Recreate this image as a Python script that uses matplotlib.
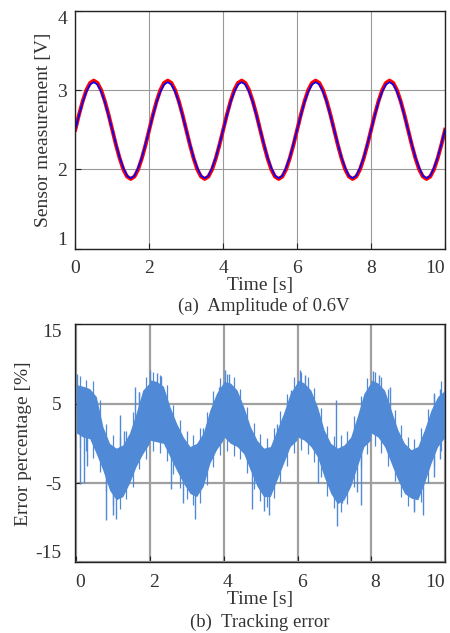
import numpy as np
from matplotlib import pyplot as plt
from matplotlib.transforms import ScaledTranslation

plt.rcParams['font.family'] = ['Liberation Serif', 'DejaVu Serif']
plt.rcParams['font.size'] = 14
plt.rcParams['axes.unicode_minus'] = False

# (a) sensor measurement, sampled every 0.1 s
t_a = np.arange(101) * 0.1
v_meas = [2.50, 2.69, 2.86, 3.00, 3.09, 3.12, 3.09, 3.00, 2.86, 2.69,
          2.50, 2.31, 2.14, 2.00, 1.91, 1.88, 1.91, 2.00, 2.14, 2.31,
          2.50, 2.69, 2.86, 3.00, 3.09, 3.12, 3.09, 3.00, 2.86, 2.69,
          2.50, 2.31, 2.14, 2.00, 1.91, 1.88, 1.91, 2.00, 2.14, 2.31,
          2.50, 2.69, 2.86, 3.00, 3.09, 3.12, 3.09, 3.00, 2.86, 2.69,
          2.50, 2.31, 2.14, 2.00, 1.91, 1.88, 1.91, 2.00, 2.14, 2.31,
          2.50, 2.69, 2.86, 3.00, 3.09, 3.12, 3.09, 3.00, 2.86, 2.69,
          2.50, 2.31, 2.14, 2.00, 1.91, 1.88, 1.91, 2.00, 2.14, 2.31,
          2.50, 2.69, 2.86, 3.00, 3.09, 3.12, 3.09, 3.00, 2.86, 2.69,
          2.50, 2.31, 2.14, 2.00, 1.91, 1.88, 1.91, 2.00, 2.14, 2.31,
          2.50]
v_ref = [2.50, 2.68, 2.85, 2.98, 3.07, 3.10, 3.07, 2.98, 2.85, 2.68,
         2.50, 2.32, 2.15, 2.02, 1.92, 1.89, 1.92, 2.02, 2.15, 2.32,
         2.50, 2.68, 2.85, 2.98, 3.07, 3.10, 3.07, 2.98, 2.85, 2.68,
         2.50, 2.32, 2.15, 2.02, 1.92, 1.89, 1.92, 2.02, 2.15, 2.32,
         2.50, 2.68, 2.85, 2.98, 3.07, 3.10, 3.07, 2.98, 2.85, 2.68,
         2.50, 2.32, 2.15, 2.02, 1.92, 1.89, 1.92, 2.02, 2.15, 2.32,
         2.50, 2.68, 2.85, 2.98, 3.07, 3.10, 3.07, 2.98, 2.85, 2.68,
         2.50, 2.32, 2.15, 2.02, 1.92, 1.89, 1.92, 2.02, 2.15, 2.32,
         2.50, 2.68, 2.85, 2.98, 3.07, 3.10, 3.07, 2.98, 2.85, 2.68,
         2.50, 2.32, 2.15, 2.02, 1.92, 1.89, 1.92, 2.02, 2.15, 2.32,
         2.50]

# (b) tracking error: envelope of the noisy band, every 0.18 s in each 2 s block
t_b = [0.00, 0.18, 0.36, 0.54, 0.72, 0.90, 1.08, 1.26, 1.44, 1.62, 1.80, 1.98,
       2.00, 2.18, 2.36, 2.54, 2.72, 2.90, 3.08, 3.26, 3.44, 3.62, 3.80, 3.98,
       4.00, 4.18, 4.36, 4.54, 4.72, 4.90, 5.08, 5.26, 5.44, 5.62, 5.80, 5.98,
       6.00, 6.18, 6.36, 6.54, 6.72, 6.90, 7.08, 7.26, 7.44, 7.62, 7.80, 7.98,
       8.00, 8.18, 8.36, 8.54, 8.72, 8.90, 9.08, 9.26, 9.44, 9.62, 9.80, 10.0]
err_hi = [7.4, 7.2, 6.9, 5.9, 2.1, 0.0, -0.6, -0.2, 1.3, 3.8, 6.7, 7.6,
          8.0, 7.8, 7.2, 4.6, 2.5, 0.8, -0.4, 0.0, 1.3, 4.2, 6.3, 7.6,
          7.8, 7.6, 6.7, 4.6, 2.1, 0.4, -0.6, -0.4, 1.7, 3.8, 6.3, 7.6,
          8.0, 7.6, 6.7, 4.6, 1.7, 0.0, -0.6, -0.2, 0.8, 3.4, 6.3, 7.6,
          8.0, 7.6, 6.7, 4.2, 1.7, 0.0, -0.8, -0.4, 1.7, 4.2, 5.9, 6.7]
err_lo = [1.3, 0.8, 0.6, -1.3, -3.4, -5.9, -7.1, -6.7, -5.0, -2.9, -1.3, 0.0,
          0.4, 0.2, 0.0, -1.7, -3.4, -5.0, -6.3, -6.7, -5.4, -2.5, -0.8, 0.4,
          0.8, 0.0, -0.4, -1.3, -3.4, -5.4, -6.7, -6.7, -4.6, -2.5, -0.4, 0.4,
          0.8, 0.4, -0.4, -1.7, -4.2, -6.3, -7.6, -7.1, -5.4, -2.9, -0.4, 0.4,
          1.3, 0.8, -0.4, -2.5, -4.6, -6.3, -6.9, -7.1, -5.0, -2.5, -0.4, 0.8]

# short strands just outside the band edges
hair_t = [0.09, 0.27, 0.45, 0.63, 0.81, 0.99, 1.17, 1.35, 1.53, 1.71, 1.89,
          2.09, 2.27, 2.45, 2.63, 2.81, 2.99, 3.17, 3.35, 3.53, 3.71, 3.89,
          4.09, 4.27, 4.45, 4.63, 4.81, 4.99, 5.17, 5.35, 5.53, 5.71, 5.89,
          6.09, 6.27, 6.45, 6.63, 6.81, 6.99, 7.17, 7.35, 7.53, 7.71, 7.89,
          8.09, 8.27, 8.45, 8.63, 8.81, 8.99, 9.17, 9.35, 9.53, 9.71, 9.89]
hair_hi = [8.5, 8.0, 7.8, 5.5, 2.5, 1.0, 0.8, 1.6, 4.0, 6.5, 8.4,
           9.0, 8.6, 7.3, 4.8, 3.0, 1.5, 1.0, 2.0, 4.0, 6.6, 8.2,
           8.8, 8.4, 6.9, 4.6, 2.6, 1.2, 0.7, 2.0, 4.1, 6.2, 8.3,
           9.0, 8.3, 7.0, 4.4, 2.2, 0.9, 1.0, 1.5, 3.4, 6.0, 8.2,
           9.0, 8.4, 6.8, 4.2, 2.3, 0.8, 0.6, 2.0, 4.3, 6.4, 7.8]
hair_lo = [-0.5, -1.0, -1.8, -3.6, -6.0, -7.8, -8.3, -7.0, -5.5, -3.2, -2.0,
           -1.0, -1.2, -2.2, -3.8, -5.6, -7.0, -7.8, -7.5, -5.2, -3.0, -1.4,
           -1.0, -1.6, -2.0, -3.7, -5.8, -7.3, -8.0, -6.9, -4.9, -2.8, -1.2,
           -0.8, -1.3, -2.4, -4.2, -6.6, -8.2, -8.6, -7.6, -5.5, -3.0, -1.3,
           -0.3, -1.2, -2.8, -4.8, -6.8, -7.9, -8.4, -7.4, -5.0, -2.8, -1.0]

# isolated spikes
spike_t = [0.02, 0.09, 0.20, 0.30, 0.81, 1.00, 1.08, 1.19, 1.30, 1.58, 1.70,
           2.00, 2.20, 2.30, 2.56, 2.90, 3.23, 3.44, 3.86, 4.04, 4.15, 4.75,
           5.10, 5.22, 5.44, 5.82, 6.07, 6.20, 6.55, 7.04, 7.06, 7.20, 7.62,
           7.71, 8.05, 8.20, 8.50, 9.15, 9.40, 9.70, 9.85]
spike_lo = [4.0, -5.1, -5.0, -2.9, -9.7, -9.0, -9.5, -3.0, -2.0, 0.0, 0.0,
            4.0, 4.0, 4.0, -5.8, -7.5, -9.5, -3.0, 2.0, 4.0, 4.0, -8.3,
            -8.5, -9.0, -3.0, 2.0, 4.0, 4.0, -5.0, -3.0, -10.4, -7.5, -6.1,
            -7.8, 4.0, 4.0, 0.0, -8.7, -9.0, -4.2, -2.0]
spike_hi = [8.8, 2.0, 1.0, 1.0, -3.0, -4.0, -4.0, 3.6, 1.5, 7.1, 6.5,
            9.3, 8.9, 8.5, -1.0, -3.0, -4.0, 1.9, 7.1, 9.3, 8.7, -2.0,
            -4.0, -4.0, 2.5, 6.7, 9.3, 8.6, -1.0, 5.5, -4.0, -3.0, -1.0,
            -1.0, 9.1, 8.6, 7.1, -4.0, -4.0, 6.2, 6.8]

fig = plt.figure(figsize=(4.5, 6.33), dpi=100)
txt = '#333333'
blue_err = '#5089d6'

ax1 = fig.add_axes([0.1673, 0.607, 0.8217, 0.376])
ax1.plot(t_a, v_meas, color='red', lw=2.8)
ax1.plot(t_a, v_ref, color='blue', lw=1.2)
ax1.set_xlim(0, 10)
ax1.set_ylim(1, 4)
ax1.set_xticks([0, 2, 4, 6, 8, 10])
ax1.set_yticks([1, 2, 3, 4])
ax1.grid(True, color='#999999', lw=0.8)
ax1.set_ylabel("Sensor measurement [V]", color=txt, labelpad=4)
ax1.set_xlabel("Time [s]", color=txt, labelpad=0)

ax2 = fig.add_axes([0.1673, 0.1114, 0.8217, 0.3763])
ax2.fill_between(t_b, err_lo, err_hi, color=blue_err, lw=0)
ax2.vlines(hair_t, hair_lo, hair_hi, color=blue_err, lw=0.9)
ax2.vlines(spike_t, spike_lo, spike_hi, color=blue_err, lw=1.0)
ax2.set_xlim(-0.03, 10)
ax2.set_ylim(-15, 15)
ax2.set_xticks([0, 2, 4, 6, 8, 10])
ax2.set_yticks([-15, -5, 5, 15])
ax2.grid(True, color='#a0a0a0', lw=1.6)
ax2.set_ylabel("Error percentage [%]", color=txt, labelpad=2)
ax2.set_xlabel("Time [s]", color=txt, labelpad=0)

for ax in (ax1, ax2):
    ax.set_axisbelow(True)
    ax.tick_params(direction='in', length=4, colors='#222222', labelcolor=txt, pad=8)
    ax.tick_params(axis='y', pad=6)
    for s in ax.spines.values():
        s.set_color('#222222')
        s.set_linewidth(1.0)
    # keep the end labels inside the box, as in the original
    ylabs = ax.get_yticklabels()
    ylabs[0].set_va('bottom')
    ylabs[-1].set_va('top')
    ax.get_xticklabels()[-1].set_ha('right')

ax2.tick_params(axis='y', pad=10)
shift = ScaledTranslation(4 / 100, 0, fig.dpi_scale_trans)
for lab in ax2.get_xticklabels()[:-1]:
    lab.set_transform(lab.get_transform() + shift)

fig.text(0.587, 1 - 306 / 633, "(a)  Amplitude of 0.6V", ha='center', va='center', color=txt, fontsize=13.5)
fig.text(0.577, 1 - 622 / 633, "(b)  Tracking error", ha='center', va='center', color=txt, fontsize=13.5)

plt.savefig('out.png', dpi=100)
